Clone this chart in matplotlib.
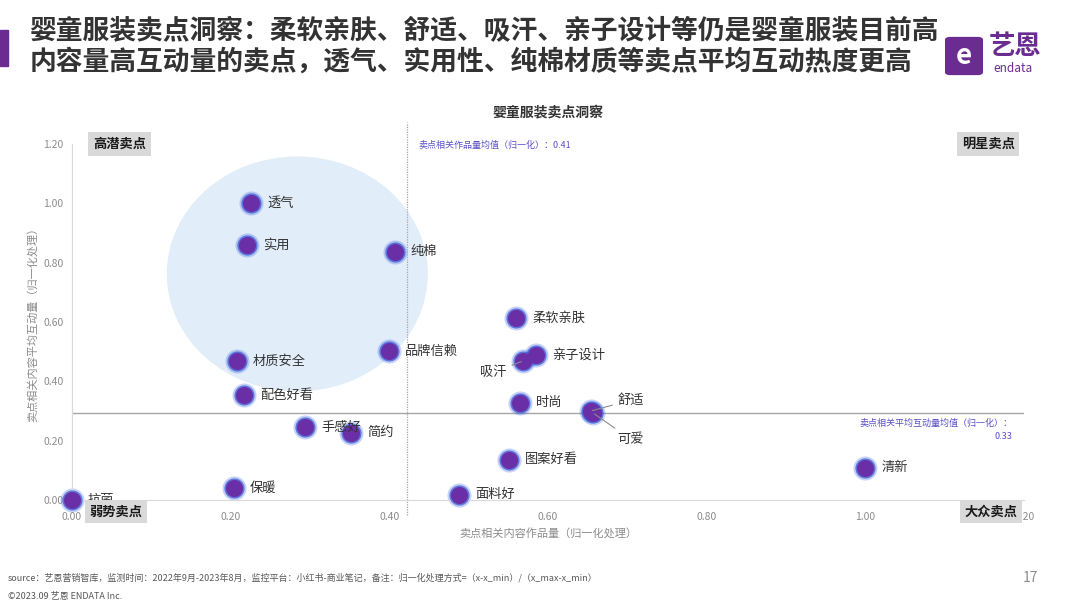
import numpy as np
import matplotlib as mpl
mpl.use("Agg")
import matplotlib.pyplot as plt
from matplotlib.patches import Ellipse, Rectangle, FancyBboxPatch

plt.rcParams['font.family'] = ['Noto Sans CJK SC', 'DejaVu Sans']

# DATA
names = ["透气", "实用", "纯棉", "柔软亲肤", "品牌信赖", "亲子设计", "吸汗", "材质安全",
         "配色好看", "时尚", "舒适", "可爱", "手感好", "简约", "图案好看", "清新",
         "保暖", "面料好", "抗菌"]
x_vals = [0.226, 0.221, 0.407, 0.560, 0.400, 0.585, 0.568, 0.208,
          0.217, 0.565, 0.654, 0.657, 0.294, 0.352, 0.551, 1.000,
          0.204, 0.488, 0.000]
y_vals = [1.000, 0.860, 0.836, 0.613, 0.502, 0.489, 0.468, 0.468,
          0.354, 0.327, 0.300, 0.293, 0.246, 0.226, 0.135, 0.108,
          0.040, 0.017, 0.000]
x_mean_line = 0.422
y_mean_line = 0.293
x_mean_text = "卖点相关作品量均值（归一化）：0.41"
y_mean_text = "卖点相关平均互动量均值（归一化）：\n0.33"
ticks = [0.0, 0.2, 0.4, 0.6, 0.8, 1.0, 1.2]

# labels with a leader line: offset in pixels (dx, dy)
offsets = {"吸汗": (-16, -11), "舒适": (27, 11), "可爱": (24, -26)}

fig = plt.figure(figsize=(10.8, 6.08), dpi=100)
fig.patch.set_facecolor("white")

# header
fig.add_artist(Rectangle((0, 1 - 66 / 608), 8 / 1080, 36 / 608, transform=fig.transFigure,
                         color="#6b2c91"))
fig.text(30 / 1080, 1 - 31 / 608, "婴童服装卖点洞察：柔软亲肤、舒适、吸汗、亲子设计等仍是婴童服装目前高",
         fontsize=19.3, fontweight="bold", color="#333333", va="center")
fig.text(30 / 1080, 1 - 62 / 608, "内容量高互动量的卖点，透气、实用性、纯棉材质等卖点平均互动热度更高",
         fontsize=19.3, fontweight="bold", color="#333333", va="center")

# logo
fig.add_artist(FancyBboxPatch((950 / 1080, 1 - 72 / 608), 28 / 1080, 32 / 608,
                              boxstyle="round,pad=0.004", transform=fig.transFigure,
                              color="#6b2c91"))
fig.text(964 / 1080, 1 - 56 / 608, "e", fontsize=20, fontweight="bold", color="white",
         ha="center", va="center")
fig.text(1015 / 1080, 1 - 47 / 608, "艺恩", fontsize=19, fontweight="bold", color="#6b2c91",
         ha="center", va="center")
fig.text(1013 / 1080, 1 - 69 / 608, "endata", fontsize=8.5, color="#6b2c91",
         ha="center", va="center")

ax = fig.add_axes([72 / 1080, 1 - 500 / 608, 952 / 1080, 356 / 608])
ax.set_xlim(0, 1.2)
ax.set_ylim(0, 1.2)
for s in ["top", "right"]:
    ax.spines[s].set_visible(False)
for s in ["left", "bottom"]:
    ax.spines[s].set_color("#d9d9d9")
ax.tick_params(length=0, labelsize=7.5, labelcolor="#8c8c8c")
ax.set_xticks(ticks)
ax.set_yticks(ticks)
ax.set_xticklabels([f"{t:.2f}" for t in ticks])
ax.set_yticklabels([f"{t:.2f}" for t in ticks])
ax.tick_params(axis="x", pad=9)
ax.tick_params(axis="y", pad=6)

ax.set_title("婴童服装卖点洞察", fontsize=10, fontweight="bold", color="#333333", pad=20)
ax.set_xlabel("卖点相关内容作品量（归一化处理）", fontsize=8, color="#8c8c8c", labelpad=4)
ax.set_ylabel("卖点相关内容平均互动量（归一化处理）", fontsize=8, color="#8c8c8c", labelpad=4)

# highlight circle
ax.add_patch(Ellipse((0.284, 0.762), 0.329, 0.792, color="#e1edf8", zorder=0, lw=0))

# mean lines
ax.plot([x_mean_line, x_mean_line], [-0.05, 1.275], color="#a6a6a6", lw=0.9, ls=(0, (1, 1)),
        clip_on=False, zorder=1)
ax.axhline(y_mean_line, color="#a6a6a6", lw=1.0, zorder=1)
ax.text(x_mean_line + 0.014, 1.195, x_mean_text, fontsize=6.5, color="#5b4fc9", va="center")
ax.text(1.185, 0.236, y_mean_text, fontsize=6.5, color="#5b4fc9", ha="right",
        va="center", linespacing=1.6)

# points with glow
ax.scatter(x_vals, y_vals, s=300, color="#3f6be0", alpha=0.3, lw=0, zorder=2, clip_on=False)
ax.scatter(x_vals, y_vals, s=210, color="#3d55d6", alpha=0.75, lw=0, zorder=3, clip_on=False)
ax.scatter(x_vals, y_vals, s=150, color="#6a2fa6", lw=0, zorder=4, clip_on=False)

for n, xv, yv in zip(names, x_vals, y_vals):
    if n in offsets:
        dx, dy = offsets[n]
        ax.annotate(n, (xv, yv), xytext=(dx, dy), textcoords="offset pixels",
                    fontsize=9.5, color="#333333", va="center",
                    ha="right" if dx < 0 else "left",
                    arrowprops=dict(arrowstyle="-", color="#8c8c8c", lw=0.8,
                                    shrinkA=2, shrinkB=1), zorder=5)
    else:
        ax.annotate(n, (xv, yv), xytext=(16, 0), textcoords="offset pixels",
                    fontsize=9.5, color="#333333", va="center", zorder=5)

# quadrant boxes
box = dict(boxstyle="square,pad=0.35", fc="#d9d9d9", ec="none")
ax.text(0.06, 1.2, "高潜卖点", fontsize=9.5, fontweight="bold", color="#1a1a1a", ha="center",
        va="center", bbox=box, zorder=6)
ax.text(1.155, 1.2, "明星卖点", fontsize=9.5, fontweight="bold", color="#1a1a1a", ha="center",
        va="center", bbox=box, zorder=6)
ax.text(0.055, -0.04, "弱势卖点", fontsize=9.5, fontweight="bold", color="#1a1a1a", ha="center",
        va="center", bbox=box, zorder=6, clip_on=False)
ax.text(1.158, -0.04, "大众卖点", fontsize=9.5, fontweight="bold", color="#1a1a1a", ha="center",
        va="center", bbox=box, zorder=6, clip_on=False)

# footer
fig.text(8 / 1080, 1 - 578 / 608,
         "source：艺恩营销智库，监测时间：2022年9月-2023年8月，监控平台：小红书-商业笔记，备注：归一化处理方式=（x-x_min）/（x_max-x_min）",
         fontsize=6.5, color="#595959", va="center")
fig.text(8 / 1080, 1 - 597 / 608, "©2023.09 艺恩 ENDATA Inc.", fontsize=6.5, color="#595959",
         va="center")
fig.text(1038 / 1080, 1 - 578 / 608, "17", fontsize=10, color="#8c8c8c", ha="right", va="center")

fig.savefig("out.png", dpi=100)
